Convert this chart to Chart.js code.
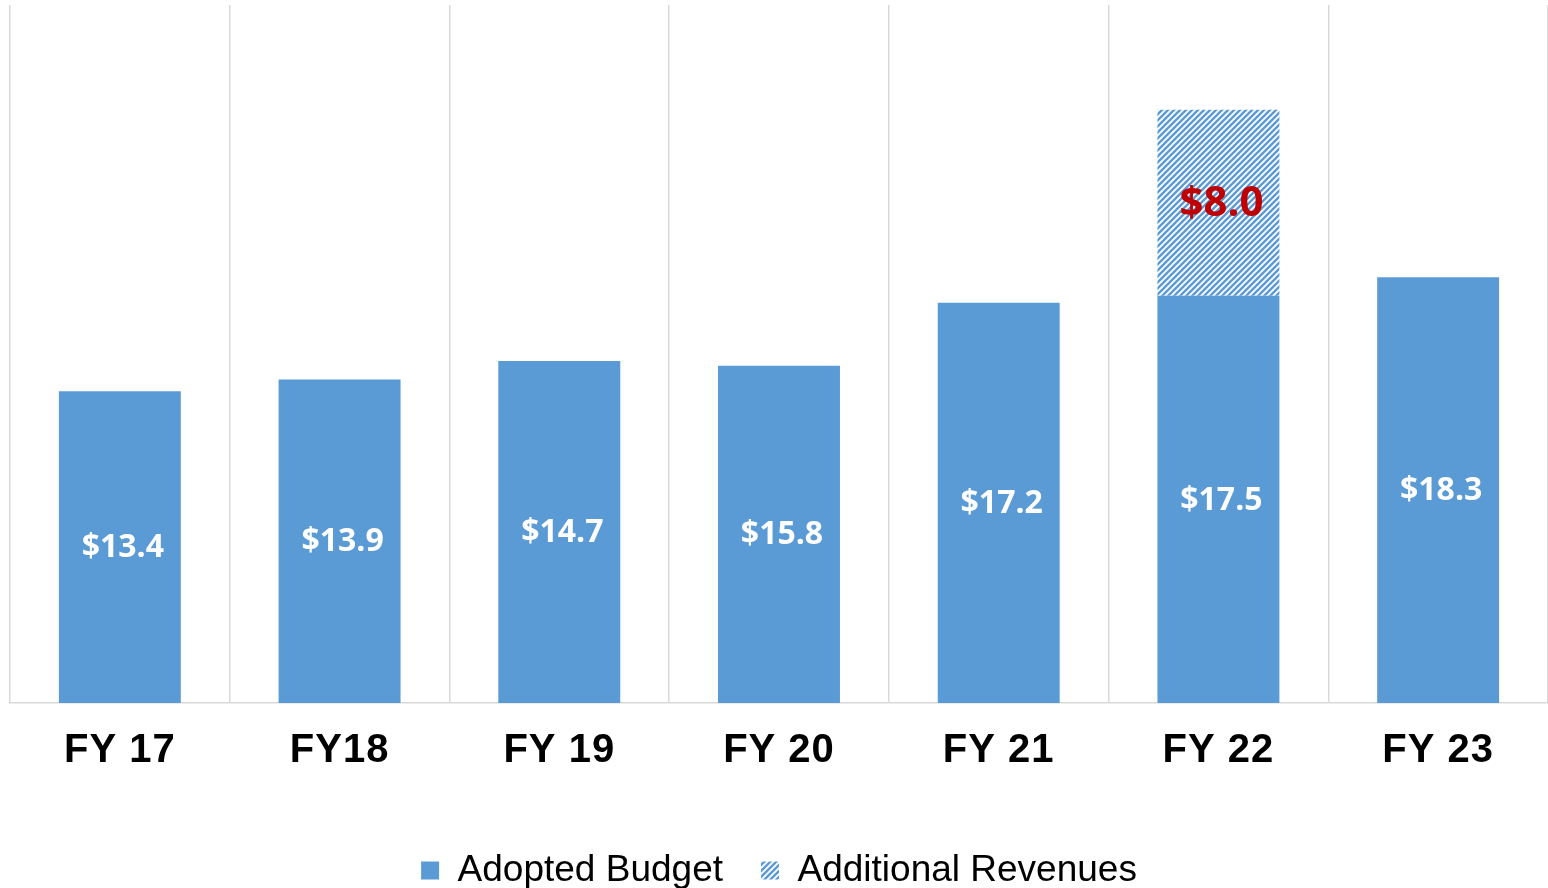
<!DOCTYPE html>
<html>
<head>
<meta charset="utf-8">
<title>Budget by fiscal year</title>
<script src="https://cdn.jsdelivr.net/npm/chart.js@4.4.0/dist/chart.umd.min.js"></script>
<style>
  html, body { margin: 0; padding: 0; background: #fff; }
  #wrap { width: 1548px; height: 888px; position: relative; }
</style>
</head>
<body>
<div id="wrap"><canvas id="budgetChart"></canvas></div>
<script>
// data
const categories = ['FY 17', 'FY18', 'FY 19', 'FY 20', 'FY 21', 'FY 22', 'FY 23'];
const adoptedBudget = [13.4, 13.9, 14.7, 14.5, 17.2, 17.5, 18.3];   // bar heights as drawn
const adoptedLabels = ['$13.4', '$13.9', '$14.7', '$15.8', '$17.2', '$17.5', '$18.3'];
const additionalRevenues = [null, null, null, null, null, 8.0, null];
const additionalLabels = ['', '', '', '', '', '$8.0', ''];

const BLUE = '#5B9BD5';
const GRID = '#D9D9D9';

// diagonal hatch for the extra revenue
const makeHatch = () => {
    const c = document.createElement('canvas');
    c.width = 6; c.height = 6;
    const g = c.getContext('2d');
    g.strokeStyle = BLUE;
    g.lineWidth = 2.4;
    g.beginPath();
    g.moveTo(0, 6); g.lineTo(6, 0);
    g.moveTo(-1, 1); g.lineTo(1, -1);
    g.moveTo(5, 7); g.lineTo(7, 5);
    g.stroke();
    return g.createPattern(c, 'repeat');
};
const hatch = makeHatch();

// labels inside the bars
const barLabels = {
    id: 'barLabels',
    afterDatasetsDraw(chart) {
        const ctx = chart.ctx;
        const sets = [
            { idx: 0, texts: adoptedLabels, color: '#fff', size: 32 },
            { idx: 1, texts: additionalLabels, color: '#C00000', size: 42 }
        ];
        ctx.save();
        ctx.textAlign = 'center';
        ctx.textBaseline = 'middle';
        sets.forEach(s => {
            chart.getDatasetMeta(s.idx).data.forEach((bar, i) => {
                const t = s.texts[i];
                if (!t) return;
                ctx.font = `bold ${s.size}px "Open Sans", "Noto Sans", sans-serif`;
                ctx.fillStyle = s.color;
                ctx.fillText(t, bar.x + 3, (bar.y + bar.base) / 2 + 1);
            });
        });
        ctx.restore();
    }
};

// slightly spaced axis labels like the original
const spacedTicks = {
    id: 'spacedTicks',
    beforeDraw(chart) {
        const s = chart.scales.x;
        if (s._spaced) return;
        const orig = s.drawLabels.bind(s);
        s.drawLabels = area => {
            chart.ctx.save();
            chart.ctx.letterSpacing = '1px';
            orig(area);
            chart.ctx.restore();
        };
        s._spaced = true;
    }
};

new Chart(document.getElementById('budgetChart'), {
    type: 'bar',
    data: {
        labels: categories,
        datasets: [
            {
                label: 'Adopted Budget',
                data: adoptedBudget,
                backgroundColor: BLUE,
                borderWidth: 0,
                categoryPercentage: 1,
                barPercentage: 0.555
            },
            {
                label: 'Additional Revenues',
                data: additionalRevenues,
                backgroundColor: hatch,
                borderWidth: 0,
                categoryPercentage: 1,
                barPercentage: 0.555
            }
        ]
    },
    options: {
        responsive: true,
        maintainAspectRatio: false,
        animation: false,
        layout: { padding: { top: 5, left: 10, right: 0, bottom: -11 } },
        scales: {
            x: {
                stacked: true,
                grid: {
                    offset: true,
                    drawTicks: false,
                    lineWidth: 1.5,
                    color: ctx => ctx.index === categories.length ? 'rgba(0,0,0,0)' : GRID
                },
                border: { color: GRID, width: 1.5 },
                ticks: {
                    color: '#000',
                    padding: 24,
                    autoSkip: false,
                    maxRotation: 0,
                    font: { family: '"Liberation Sans", Arial, sans-serif', size: 40, weight: 'bold' }
                },
                // empty title only keeps space between labels and legend
                title: {
                    display: true,
                    text: ' ',
                    font: { size: 10 },
                    padding: { top: 3, bottom: 0 }
                }
            },
            y: {
                stacked: true,
                display: false,
                min: 0,
                max: 30
            }
        },
        plugins: {
            tooltip: { enabled: false },
            legend: {
                position: 'bottom',
                labels: {
                    color: '#000',
                    boxWidth: 18,
                    boxHeight: 18,
                    padding: 38,
                    font: { family: '"Liberation Sans", Arial, sans-serif', size: 37 }
                }
            }
        }
    },
    plugins: [barLabels, spacedTicks]
});
</script>
</body>
</html>
